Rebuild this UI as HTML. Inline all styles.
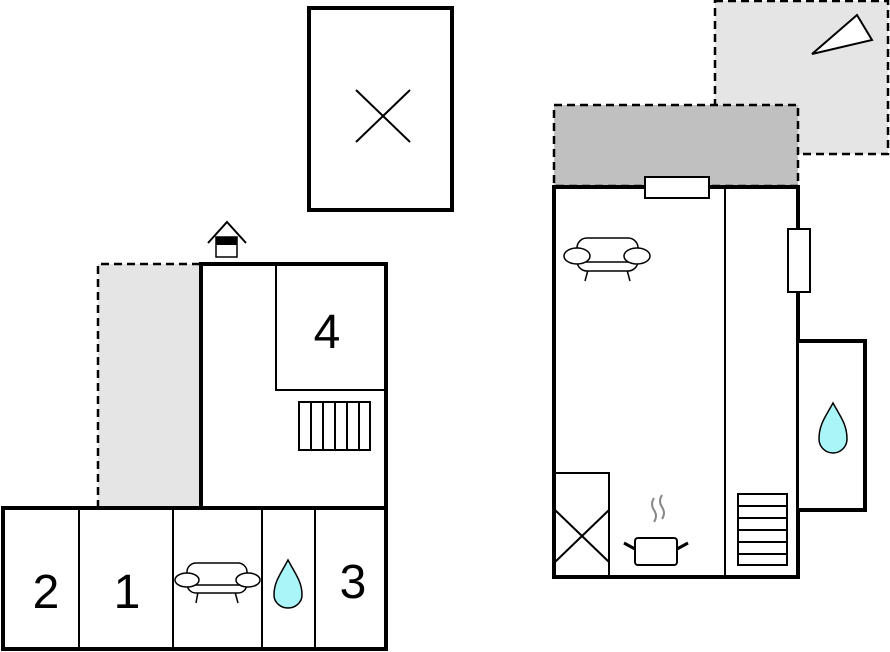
<!DOCTYPE html>
<html><head><style>body{margin:0;background:#fff}svg{display:block}</style></head><body>
<svg width="890" height="652" viewBox="0 0 890 652" xmlns="http://www.w3.org/2000/svg" font-family="Liberation Sans, sans-serif">
<rect x="309" y="8" width="143" height="202" fill="#fff" stroke="#000" stroke-width="4"/>
<line x1="356" y1="90" x2="410" y2="142" stroke="#000" stroke-width="2"/>
<line x1="410" y1="90" x2="356" y2="142" stroke="#000" stroke-width="2"/>
<rect x="98" y="264" width="102" height="242" fill="#e5e5e5"/>
<path d="M200 264 H98 V506" fill="none" stroke="#000" stroke-width="2.5" stroke-dasharray="8,5"/>
<rect x="201" y="264" width="185" height="244" fill="#fff" stroke="#000" stroke-width="4"/>
<path d="M276 266 V390 H385" fill="none" stroke="#000" stroke-width="2"/>
<text x="327" y="348" font-size="48" text-anchor="middle">4</text>
<rect x="299" y="402" width="71" height="48" fill="#fff" stroke="#000" stroke-width="2"/>
<g stroke="#000" stroke-width="2"><line x1="311" y1="402" x2="311" y2="450"/><line x1="323" y1="402" x2="323" y2="450"/><line x1="335" y1="402" x2="335" y2="450"/><line x1="347" y1="402" x2="347" y2="450"/><line x1="359" y1="402" x2="359" y2="450"/></g>
<rect x="3" y="508" width="383" height="141" fill="#fff" stroke="#000" stroke-width="4"/>
<g stroke="#000" stroke-width="2"><line x1="79" y1="508" x2="79" y2="649"/><line x1="173" y1="508" x2="173" y2="649"/><line x1="262" y1="508" x2="262" y2="649"/><line x1="315" y1="508" x2="315" y2="649"/></g>
<text x="46" y="608" font-size="48" text-anchor="middle">2</text>
<text x="127" y="608" font-size="48" text-anchor="middle">1</text>
<text x="353" y="598" font-size="48" text-anchor="middle">3</text>
<g fill="#fff" stroke="#000" stroke-width="1.5">
<line x1="198" y1="592" x2="196" y2="603"/><line x1="235" y1="592" x2="238" y2="603"/>
<rect x="187" y="563" width="60" height="30" rx="9"/>
<line x1="193" y1="585" x2="241" y2="585"/>
<ellipse cx="187" cy="580" rx="12" ry="7"/><ellipse cx="248" cy="580" rx="12" ry="7"/>
</g>
<path d="M288 560 C280 575 274 582 274 595 A14 13 0 0 0 302 595 C302 582 296 575 288 560Z" fill="#aaf5f8" stroke="#000" stroke-width="1.5"/>
<path d="M208 243 L227 222 L246 243" fill="none" stroke="#000" stroke-width="2"/>
<rect x="216" y="237" width="21" height="20" fill="#fff" stroke="#000" stroke-width="1.5"/>
<rect x="216" y="237" width="21" height="8" fill="#000"/>
<rect x="715" y="1" width="173" height="153" fill="#e5e5e5" stroke="#000" stroke-width="2.5" stroke-dasharray="8,5"/>
<polygon points="812,54 857,15 872,40" fill="#fff" stroke="#000" stroke-width="2"/>
<rect x="554" y="105" width="244" height="81" fill="#c0c0c0" stroke="#000" stroke-width="2.5" stroke-dasharray="8,5"/>
<rect x="799" y="341" width="66" height="169" fill="#fff" stroke="#000" stroke-width="4"/>
<path d="M833 403 C826 416 819 424 819 439 A14 14 0 0 0 847 439 C847 424 840 416 833 403Z" fill="#aaf5f8" stroke="#000" stroke-width="1.5"/>
<rect x="554" y="187" width="244" height="390" fill="#fff" stroke="#000" stroke-width="4"/>
<rect x="797" y="343" width="5" height="165" fill="#fff"/>
<line x1="798" y1="341" x2="798" y2="510" stroke="#000" stroke-width="2"/>
<line x1="725" y1="187" x2="725" y2="577" stroke="#000" stroke-width="2"/>
<rect x="645" y="177" width="64" height="21" fill="#fff" stroke="#000" stroke-width="2"/>
<rect x="788" y="229" width="22" height="63" fill="#fff" stroke="#000" stroke-width="2"/>
<g fill="#fff" stroke="#000" stroke-width="1.5">
<line x1="588" y1="270" x2="585" y2="281"/><line x1="627" y1="270" x2="630" y2="281"/>
<rect x="577" y="238" width="61" height="33" rx="10"/>
<line x1="582" y1="262" x2="634" y2="262"/>
<ellipse cx="577" cy="256" rx="13" ry="8"/><ellipse cx="637" cy="256" rx="13" ry="8"/>
</g>
<rect x="555" y="473" width="54" height="103" fill="#fff" stroke="#000" stroke-width="2"/>
<line x1="555" y1="510" x2="609" y2="562" stroke="#000" stroke-width="2"/>
<line x1="609" y1="510" x2="555" y2="562" stroke="#000" stroke-width="2"/>
<path d="M654 498 q-4 6 0 12 q4 6 0 12 M662 495 q-4 6 0 12 q4 6 0 12" fill="none" stroke="#888" stroke-width="2"/>
<rect x="635" y="538" width="42" height="27" rx="3" fill="#fff" stroke="#000" stroke-width="2"/>
<line x1="624" y1="543" x2="635" y2="549" stroke="#000" stroke-width="3"/>
<line x1="677" y1="549" x2="688" y2="543" stroke="#000" stroke-width="3"/>
<rect x="738" y="494" width="49" height="71" fill="#fff" stroke="#000" stroke-width="2"/>
<g stroke="#000" stroke-width="2"><line x1="738" y1="506" x2="787" y2="506"/><line x1="738" y1="518" x2="787" y2="518"/><line x1="738" y1="530" x2="787" y2="530"/><line x1="738" y1="542" x2="787" y2="542"/><line x1="738" y1="554" x2="787" y2="554"/></g>
</svg>
</body></html>
